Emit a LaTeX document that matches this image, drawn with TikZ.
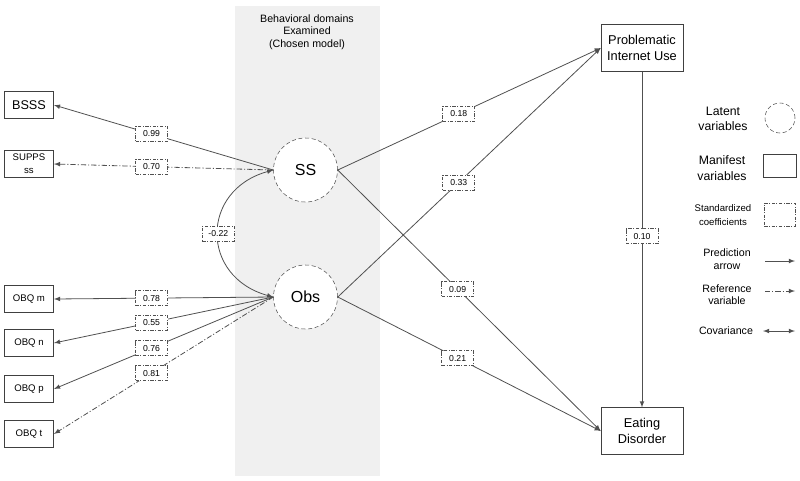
\documentclass[tikz,border=0pt]{standalone}
\usepackage{fontspec}
\setmainfont{Liberation Sans}
\usetikzlibrary{arrows,positioning}
\definecolor{bandgray}{HTML}{F0F0F0}
\definecolor{linegray}{HTML}{505050}
\tikzset{%
    latent/.style={%
        circle, draw=linegray, dash pattern=on 3pt off 2pt, fill=white, minimum size=48pt, inner sep=0pt, font=\fontsize{12}{14}\selectfont
    },
    manifest/.style={%
        rectangle, draw=black!75, fill=white, minimum width=37pt, minimum height=20pt, inner sep=1pt, align=center, font=\fontsize{7.2}{9.75}\selectfont
    },
    outcome/.style={%
        manifest, minimum width=61.5pt, minimum height=35pt, font=\fontsize{9.6}{11.6}\selectfont
    },
    coef/.style={%
        rectangle, draw=linegray, solid, dash pattern=on 2.5pt off 1.2pt on 0.6pt off 1.2pt, fill=white, minimum width=24pt, minimum height=11.25pt, inner sep=0pt, font=\fontsize{6.5}{7}\selectfont
    },
    pred/.style={%
        draw=linegray, line width=0.6pt, -latex
    },
    refline/.style={%
        pred, dash pattern=on 4pt off 1.5pt on 0.8pt off 1.5pt
    },
    cov/.style={%
        draw=linegray, line width=0.6pt, latex-latex
    },
    legtxt/.style={%
        align=center, font=\fontsize{9.2}{11.5}\selectfont
    },
}

\begin{document}
\begin{tikzpicture}[x=0.75pt, y=-0.75pt]
      \useasboundingbox (0,0) rectangle (800,480);
      \fill[bandgray] (235,6) rectangle (380,476);
      \node[align=center, font=\fontsize{8}{9.4}\selectfont] (title) at (307,32) {Behavioral domains\\Examined\\(Chosen model)};

      % latent variables
      \node[latent] (SS) at (305.5,170) {SS};
      \node[latent] (Obs) at (305.5,297) {Obs};

      % manifest variables
      \node[manifest, font=\fontsize{9.5}{11}\selectfont] (BSSS) at (29,105) {BSSS};
      \node[manifest] (SUPPS) at (29,164) {SUPPS\\ss};
      \node[manifest] (OBQm) at (29,299) {OBQ m};
      \node[manifest] (OBQn) at (29,343) {OBQ n};
      \node[manifest] (OBQp) at (29,389) {OBQ p};
      \node[manifest] (OBQt) at (29,434) {OBQ t};
      \node[outcome] (PIU) at (642,48) {Problematic\\Internet Use};
      \node[outcome] (ED) at (642,431) {Eating\\Disorder};

      % loadings
      \draw[pred] (SS.west) -- (BSSS.east) node[coef, pos=0.555] {0.99};
      \draw[refline] (SS.west) -- (SUPPS.east) node[coef, pos=0.555] {0.70};
      \draw[pred] (Obs.west) -- (OBQm.east) node[coef, pos=0.555] {0.78};
      \draw[pred] (Obs.west) -- (OBQn.east) node[coef, pos=0.555] {0.55};
      \draw[pred] (Obs.west) -- (OBQp.east) node[coef, pos=0.555] {0.76};
      \draw[refline] (Obs.west) -- (OBQt.east) node[coef, pos=0.555] {0.81};
      \draw[cov] (SS.west) .. controls (200,190) and (200,277) .. (Obs.west) node[coef, pos=0.5] {-0.22};

      % paths
      \draw[pred] (SS.east) -- (PIU.west) node[coef, pos=0.46] {0.18};
      \draw[pred] (Obs.east) -- (PIU.west) node[coef, pos=0.46] {0.33};
      \draw[pred] (SS.east) -- (ED.west) node[coef, pos=0.456] {0.09};
      \draw[pred] (Obs.east) -- (ED.west) node[coef, pos=0.456] {0.21};
      \draw[pred] (PIU.south) -- (ED.north) node[coef, pos=0.49] {0.10};

      % legend
      \node[legtxt] (latentlbl) at (723,119) {Latent\\variables};
      \node[latent, minimum size=22.5pt] (latentkey) at (780,118) {};
      \node[legtxt] (manifestlbl) at (722,168) {Manifest\\variables};
      \node[manifest, minimum width=25pt, minimum height=17pt] (manifestkey) at (779.5,165.5) {};
      \node[legtxt, font=\fontsize{7.2}{10.2}\selectfont] (coeflbl) at (723,215) {Standardized\\coefficients};
      \node[coef, minimum width=23pt, minimum height=17pt] (coefkey) at (779.5,214.5) {};
      \node[legtxt, font=\fontsize{8}{9.8}\selectfont] (predlbl) at (727,259.5) {Prediction\\arrow};
      \coordinate (predA) at (765,261);
      \coordinate (predB) at (795,261);
      \draw[pred] (predA) -- (predB);
      \node[legtxt, font=\fontsize{8}{9.2}\selectfont] (reflbl) at (727,295) {Reference\\variable};
      \coordinate (refA) at (765,291);
      \coordinate (refB) at (795,291);
      \draw[refline] (refA) -- (refB);
      \node[legtxt, font=\fontsize{8}{9.2}\selectfont] (covlbl) at (726,331) {Covariance};
      \coordinate (covA) at (763,331);
      \coordinate (covB) at (795,331);
      \draw[cov] (covA) -- (covB);
    \end{tikzpicture}
\end{document}
